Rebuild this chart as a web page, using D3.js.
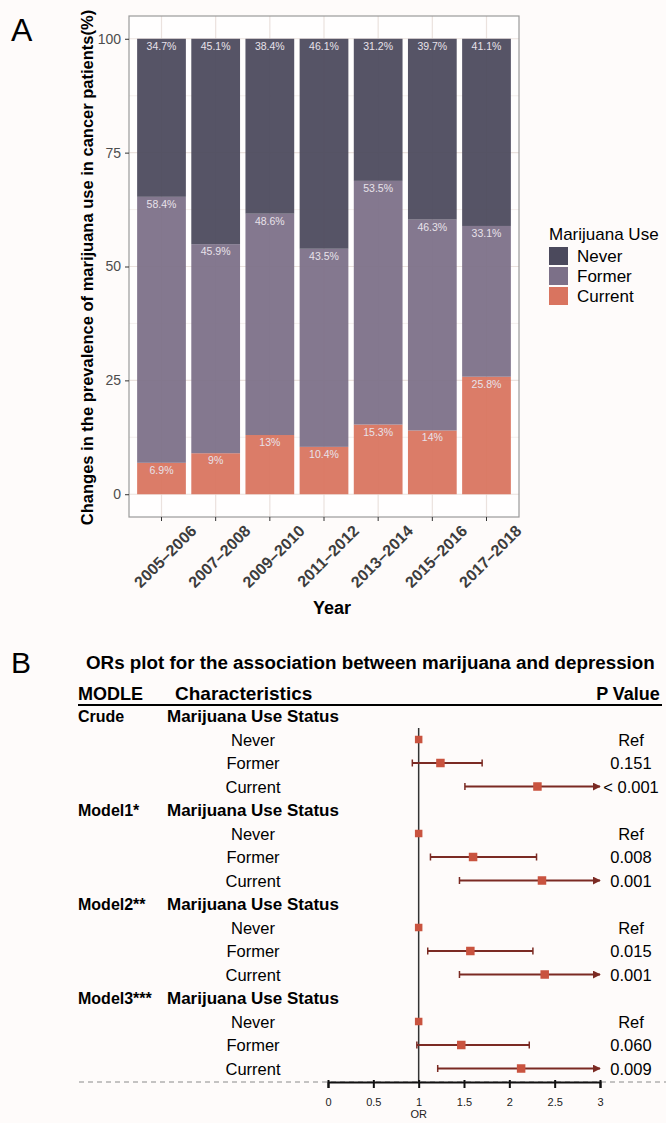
<!DOCTYPE html>
<html>
<head>
<meta charset="utf-8">
<script src="https://d3js.org/d3.v7.min.js"></script>
<style>
  body { margin: 0; background: #fefbfa; }
  svg { display: block; font-family: "Liberation Sans", Arial, sans-serif; }
</style>
</head>
<body>
<svg width="666" height="1123"></svg>
<script>
// ---- panel A data ----
var years = ["2005–2006", "2007–2008", "2009–2010", "2011–2012", "2013–2014", "2015–2016", "2017–2018"];
var useGroups = ["Never", "Former", "Current"];
var neverPct = [34.7, 45.1, 38.4, 46.1, 31.2, 39.7, 41.1];
var formerPct = [58.4, 45.9, 48.6, 43.5, 53.5, 46.3, 33.1];
var currentPct = [6.9, 9, 13, 10.4, 15.3, 14, 25.8];
var yTicks = [0, 25, 50, 75, 100];

// ---- panel B data ----
var models = ["Crude", "Model1*", "Model2**", "Model3***"];
var statuses = ["Never", "Former", "Current"];
var orPoint = [[1, 1.24, 2.31], [1, 1.60, 2.36], [1, 1.57, 2.39], [1, 1.47, 2.13]];
var orLow   = [[1, 0.93, 1.51], [1, 1.13, 1.45], [1, 1.10, 1.45], [1, 0.98, 1.21]];
var orHigh  = [[1, 1.70, 3.40], [1, 2.30, 3.40], [1, 2.26, 3.40], [1, 2.22, 3.40]];
var pValues = [["Ref", "0.151", "< 0.001"], ["Ref", "0.008", "0.001"], ["Ref", "0.015", "0.001"], ["Ref", "0.060", "0.009"]];
var orTicks = [0, 0.5, 1, 1.5, 2, 2.5, 3];

var svg = d3.select("svg");
var colors = d3.scaleOrdinal().domain(useGroups).range(["#4b495c", "#7c7088", "#d9745f"]);

// =================== A ===================
var pL = 129, pR = 519, pT = 16, pB = 517;
var x = d3.scaleBand().domain(years).range([pL, pR]).paddingInner(0.1).paddingOuter(0.15);
var y = d3.scaleLinear().domain([-5, 105]).range([pB, pT]);

svg.append("text").attr("x", 11).attr("y", 41).attr("font-size", 32).text("A");

svg.append("rect").attr("x", pL).attr("y", pT).attr("width", pR - pL).attr("height", pB - pT)
  .attr("fill", "#fffefe");

var grid = svg.append("g");
grid.selectAll(".minor").data([12.5, 37.5, 62.5, 87.5]).enter().append("line")
  .attr("x1", pL).attr("x2", pR).attr("y1", function(d) { return y(d); }).attr("y2", function(d) { return y(d); })
  .attr("stroke", "#f1ebe8").attr("stroke-width", 0.8);
grid.selectAll(".major").data(yTicks).enter().append("line")
  .attr("x1", pL).attr("x2", pR).attr("y1", function(d) { return y(d); }).attr("y2", function(d) { return y(d); })
  .attr("stroke", "#ebe2de").attr("stroke-width", 1.2);
grid.selectAll(".vert").data(years).enter().append("line")
  .attr("x1", function(d) { return x(d) + x.bandwidth() / 2; })
  .attr("x2", function(d) { return x(d) + x.bandwidth() / 2; })
  .attr("y1", pT).attr("y2", pB)
  .attr("stroke", "#ebe2de").attr("stroke-width", 1.2);

// stack: Current at bottom, then Former, Never on top
var rows = years.map(function(yr, i) {
  return { year: yr, Never: neverPct[i], Former: formerPct[i], Current: currentPct[i] };
});
var stack = d3.stack().keys(["Current", "Former", "Never"]);
var series = stack(rows);

var bars = svg.append("g");
series.forEach(function(s) {
  bars.selectAll(".b" + s.key).data(s).enter().append("rect")
    .attr("x", function(d) { return x(d.data.year); })
    .attr("width", x.bandwidth())
    .attr("y", function(d) { return y(d[1]); })
    .attr("height", function(d) { return y(d[0]) - y(d[1]); })
    .attr("fill", colors(s.key))
    .attr("fill-opacity", 0.94);
  bars.selectAll(".t" + s.key).data(s).enter().append("text")
    .attr("x", function(d) { return x(d.data.year) + x.bandwidth() / 2; })
    .attr("y", function(d) { return y(d[1]) + 11; })
    .attr("text-anchor", "middle")
    .attr("font-size", 10.5)
    .attr("fill", "#e8e2ea")
    .text(function(d) { return d.data[s.key] + "%"; });
});

svg.append("rect").attr("x", pL).attr("y", pT).attr("width", pR - pL).attr("height", pB - pT)
  .attr("fill", "none").attr("stroke", "#9a9a9a").attr("stroke-width", 1.2);

// y axis
var yAxis = svg.append("g").attr("transform", "translate(" + pL + ",0)")
  .call(d3.axisLeft(y).tickValues(yTicks).tickSize(4).tickPadding(4));
yAxis.select(".domain").remove();
yAxis.selectAll("line").attr("stroke", "#333");
yAxis.selectAll("text").attr("font-size", 14).attr("fill", "#4d4d4d").attr("font-family", null);

// x axis
var xAxis = svg.append("g").attr("transform", "translate(0," + pB + ")")
  .call(d3.axisBottom(x).tickSize(4).tickFormat(""));
xAxis.select(".domain").remove();
xAxis.selectAll("line").attr("stroke", "#333");
svg.append("g").selectAll("text").data(years).enter().append("text")
  .attr("transform", function(d) { return "translate(" + (x(d) + x.bandwidth() / 2 + 36) + ",532) rotate(-45)"; })
  .attr("text-anchor", "end")
  .attr("font-size", 16).attr("font-weight", "bold").attr("fill", "#3d3d3d")
  .text(function(d) { return d; });

svg.append("text").attr("x", 332).attr("y", 614).attr("text-anchor", "middle")
  .attr("font-size", 18).attr("font-weight", "bold").text("Year");

svg.append("text").attr("transform", "translate(93,267.5) rotate(-90)")
  .attr("text-anchor", "middle").attr("font-size", 16.5).attr("font-weight", "bold")
  .text("Changes in the prevalence of marijuana use in cancer patients(%)");

// legend
var leg = svg.append("g");
leg.append("text").attr("x", 549).attr("y", 240).attr("font-size", 17).text("Marijuana Use");
useGroups.forEach(function(g, i) {
  leg.append("rect").attr("x", 549).attr("y", 247 + i * 20).attr("width", 19).attr("height", 18)
    .attr("fill", colors(g));
  leg.append("text").attr("x", 577).attr("y", 262 + i * 20).attr("font-size", 17).text(g);
});

// =================== B ===================
svg.append("text").attr("x", 11).attr("y", 673).attr("font-size", 30).text("B");
svg.append("text").attr("x", 86).attr("y", 669).attr("font-size", 18.8).attr("font-weight", "bold")
  .text("ORs plot for the association between marijuana and depression");

var hdr = svg.append("g").attr("font-weight", "bold");
hdr.append("text").attr("x", 78).attr("y", 700).attr("font-size", 18).text("MODLE");
hdr.append("text").attr("x", 175).attr("y", 700).attr("font-size", 19).text("Characteristics");
hdr.append("text").attr("x", 628).attr("y", 700).attr("font-size", 18).attr("text-anchor", "middle").text("P Value");
svg.append("line").attr("x1", 78).attr("x2", 662).attr("y1", 705).attr("y2", 705)
  .attr("stroke", "#000").attr("stroke-width", 2);

var xo = d3.scaleLinear().domain([0, 3]).range([328, 600]);
var ry = d3.scaleLinear().domain([0, 15]).range([716, 1068.5]);

// reference line at OR = 1
svg.append("line").attr("x1", xo(1)).attr("x2", xo(1)).attr("y1", 728).attr("y2", 1082)
  .attr("stroke", "#333").attr("stroke-width", 1.5);

// dashed bottom line + OR axis
svg.append("line").attr("x1", 79).attr("x2", 666).attr("y1", 1082).attr("y2", 1082)
  .attr("stroke", "#8a8a8a").attr("stroke-dasharray", "5,4").attr("stroke-width", 1);
var oAxis = svg.append("g").attr("transform", "translate(0,1082)")
  .call(d3.axisBottom(xo).tickValues(orTicks).tickSize(6).tickPadding(10).tickFormat(d3.format("")));
oAxis.select(".domain").attr("stroke", "#111").attr("stroke-width", 2);
oAxis.selectAll("line").attr("stroke", "#111").attr("stroke-width", 2).attr("y1", -2);
oAxis.selectAll("text").attr("font-size", 11).attr("fill", "#222").attr("font-family", null);
svg.append("text").attr("x", xo(1)).attr("y", 1118).attr("text-anchor", "middle")
  .attr("font-size", 11).attr("fill", "#222").text("OR");

var defs = svg.append("defs");
defs.append("marker").attr("id", "arr").attr("viewBox", "0 0 10 10").attr("refX", 9).attr("refY", 5)
  .attr("markerWidth", 4).attr("markerHeight", 4).attr("orient", "auto")
  .append("path").attr("d", "M0,0L10,5L0,10Z").attr("fill", "#7b2a23");

var ciColor = "#7b2a23", ptColor = "#c9533f";
var body = svg.append("g");
models.forEach(function(m, mi) {
  var r0 = mi * 4;
  body.append("text").attr("x", 78).attr("y", ry(r0) + 6).attr("font-size", 16).attr("font-weight", "bold").text(m);
  body.append("text").attr("x", 167).attr("y", ry(r0) + 6).attr("font-size", 17).attr("font-weight", "bold")
    .text("Marijuana Use Status");
  statuses.forEach(function(s, si) {
    var cy = ry(r0 + 1 + si);
    body.append("text").attr("x", 253).attr("y", cy + 6).attr("text-anchor", "middle").attr("font-size", 16.5).text(s);
    body.append("text").attr("x", 631).attr("y", cy + 6).attr("text-anchor", "middle").attr("font-size", 16.5)
      .text(pValues[mi][si]);
    var lo = orLow[mi][si], hi = orHigh[mi][si], pt = orPoint[mi][si];
    if (hi > lo) {
      var clipped = hi > 3;
      var x2 = clipped ? xo(3) : xo(hi);
      body.append("line").attr("x1", xo(lo)).attr("x2", x2).attr("y1", cy).attr("y2", cy)
        .attr("stroke", ciColor).attr("stroke-width", 2)
        .attr("marker-end", clipped ? "url(#arr)" : null);
      body.append("line").attr("x1", xo(lo)).attr("x2", xo(lo)).attr("y1", cy - 3.5).attr("y2", cy + 3.5)
        .attr("stroke", ciColor).attr("stroke-width", 1.5);
      if (!clipped) {
        body.append("line").attr("x1", xo(hi)).attr("x2", xo(hi)).attr("y1", cy - 3.5).attr("y2", cy + 3.5)
          .attr("stroke", ciColor).attr("stroke-width", 1.5);
      }
    }
    var sz = si === 0 ? 7.5 : 8.5;
    body.append("rect").attr("x", xo(pt) - sz / 2).attr("y", cy - sz / 2).attr("width", sz).attr("height", sz)
      .attr("fill", ptColor);
  });
});
</script>
</body>
</html>
